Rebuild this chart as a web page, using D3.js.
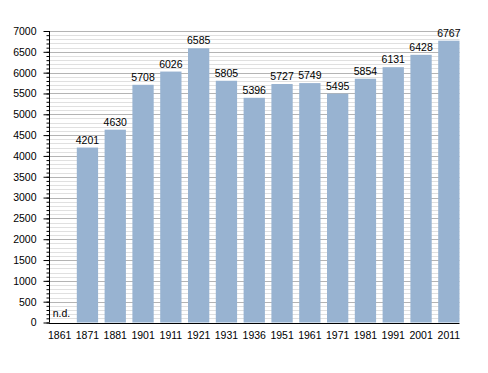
<html>
<head>
<script src="https://d3js.org/d3.v7.min.js" charset="utf-8"></script>
<style>
body { margin: 0; background: white; }
text { font-family: "Liberation Sans", Arial, sans-serif; font-size: 10.5px; fill: #000; }
</style>
</head>
<body>
<script>
// census years and population
var years = ["1861","1871","1881","1901","1911","1921","1931","1936","1951","1961","1971","1981","1991","2001","2011"];
var population = [null,4201,4630,5708,6026,6585,5805,5396,5727,5749,5495,5854,6131,6428,6767];
var yTicks = [0,500,1000,1500,2000,2500,3000,3500,4000,4500,5000,5500,6000,6500,7000];

var width = 488, height = 373;
var plotLeft = 49, plotRight = 459.5, plotTop = 31, plotBottom = 322.5;

var svg = d3.select("body").append("svg")
  .attr("width", width)
  .attr("height", height);

var x = d3.scaleBand()
  .domain(years)
  .range([plotLeft, plotRight])
  .paddingInner(0.234)
  .paddingOuter(0);

var y = d3.scaleLinear()
  .domain([0, 7000])
  .range([plotBottom, plotTop]);

// minor gridlines every 100
var minor = d3.range(100, 7000, 100).filter(function(v){ return v % 500 != 0; });
svg.append("g").selectAll("line")
  .data(minor).enter().append("line")
  .attr("x1", plotLeft).attr("x2", plotRight)
  .attr("y1", function(d){ return Math.round(y(d)) + 0.5; })
  .attr("y2", function(d){ return Math.round(y(d)) + 0.5; })
  .attr("stroke", "#e0e0e0");

// major gridlines
svg.append("g").selectAll("line")
  .data(yTicks.slice(1)).enter().append("line")
  .attr("x1", plotLeft).attr("x2", plotRight)
  .attr("y1", function(d){ return Math.round(y(d)) + 0.5; })
  .attr("y2", function(d){ return Math.round(y(d)) + 0.5; })
  .attr("stroke", "#b4b4b4");

// bars
svg.append("g").selectAll("rect")
  .data(years).enter().append("rect")
  .filter(function(d, i){ return population[i] != null; })
  .attr("x", function(d){ return x(d); })
  .attr("width", x.bandwidth())
  .attr("y", function(d){ return y(population[years.indexOf(d)]); })
  .attr("height", function(d){ return plotBottom - y(population[years.indexOf(d)]); })
  .attr("fill", "#98b3d1");

// value labels
svg.append("g").selectAll("text")
  .data(years).enter().append("text")
  .attr("x", function(d){ return x(d) + x.bandwidth() / 2; })
  .attr("y", function(d, i){ return population[i] == null ? plotBottom - 6 : y(population[i]) - 4; })
  .attr("text-anchor", function(d, i){ return population[i] == null ? "start" : "middle"; })
  .attr("dx", function(d, i){ return population[i] == null ? -7 : 0; })
  .text(function(d, i){ return population[i] == null ? "n.d." : population[i]; });

// y axis with minor ticks
svg.append("g")
  .attr("transform", "translate(" + (plotLeft + 0.5) + ",0)")
  .call(d3.axisLeft(y).tickValues(d3.range(0, 7001, 100)).tickSize(3).tickFormat(""))
  .call(function(g){ g.select(".domain").remove(); g.selectAll("line").attr("stroke", "#000"); });

svg.append("g")
  .attr("transform", "translate(" + (plotLeft + 0.5) + ",0)")
  .call(d3.axisLeft(y).tickValues(yTicks).tickSize(6).tickPadding(7).tickFormat(d3.format("d")))
  .call(function(g){
    g.select(".domain").attr("d", "M0," + plotTop + "V" + plotBottom).attr("stroke", "#000");
    g.selectAll("line").attr("stroke", "#000");
    g.selectAll("text").style("font-size", "10.5px").attr("font-family", null);
  });

// x axis
svg.append("g")
  .attr("transform", "translate(0," + (Math.round(plotBottom) + 0.5) + ")")
  .call(d3.axisBottom(x).tickSize(0).tickPadding(8))
  .call(function(g){
    g.select(".domain").attr("d", "M" + plotLeft + ",0H" + plotRight).attr("stroke", "#000");
    g.selectAll("text").style("font-size", "10.5px").attr("font-family", null);
  });
</script>
</body>
</html>
